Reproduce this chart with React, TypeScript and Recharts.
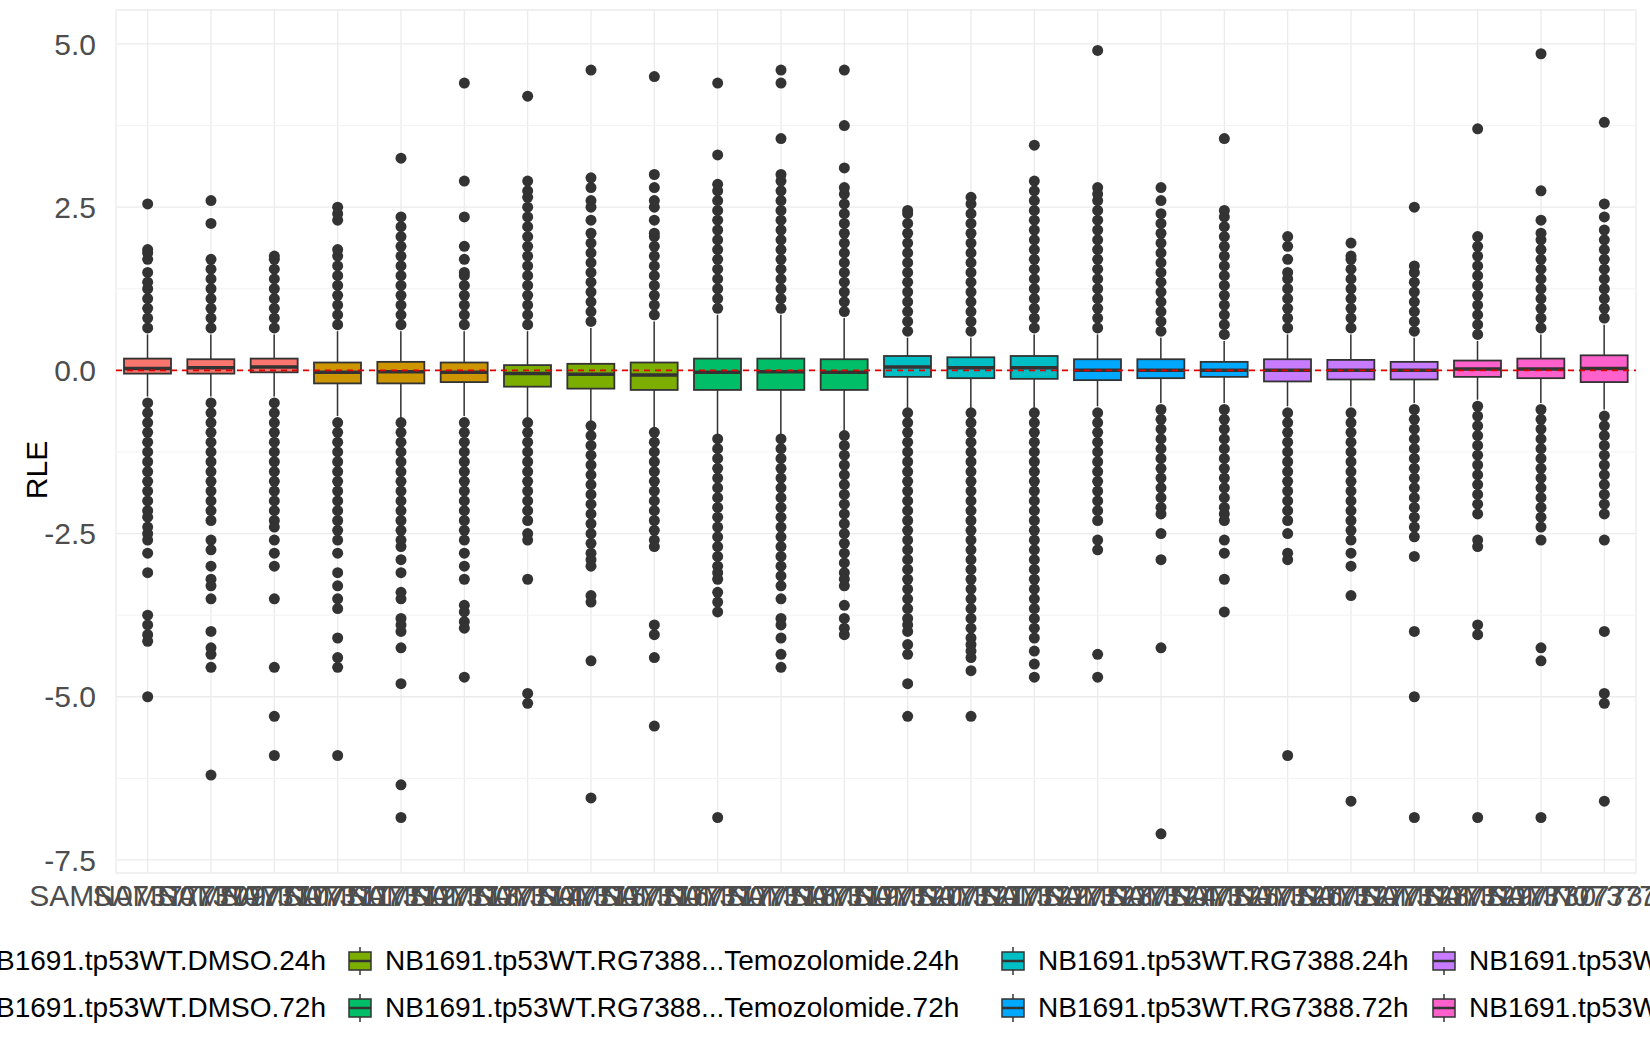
import React from "react";
import { ComposedChart, Bar, Scatter, XAxis, YAxis, CartesianGrid, ReferenceLine } from "recharts";

const samples = Array.from({ length: 24 }, (_, i) => `SAMN07377${7709 + i}`);
const groupColors = ["#F8766D", "#CD9600", "#7CAE00", "#00BE67", "#00BFC4", "#00A9FF", "#C77CFF", "#FF61CC"];

// [lo whisker, q1, median, q3, hi whisker]
const boxes: number[][] = [
  [-0.4, -0.05, 0.03, 0.18, 0.55], [-0.4, -0.05, 0.04, 0.17, 0.55], [-0.4, -0.03, 0.05, 0.18, 0.55],
  [-0.7, -0.2, -0.03, 0.12, 0.6], [-0.75, -0.2, -0.02, 0.13, 0.6], [-0.7, -0.18, -0.03, 0.12, 0.6],
  [-0.75, -0.25, -0.05, 0.08, 0.6], [-0.8, -0.28, -0.06, 0.1, 0.65], [-0.9, -0.3, -0.07, 0.12, 0.75],
  [-1.0, -0.3, -0.03, 0.18, 0.85], [-1.0, -0.3, -0.02, 0.18, 0.85], [-0.95, -0.3, -0.03, 0.17, 0.8],
  [-0.6, -0.1, 0.05, 0.22, 0.5], [-0.6, -0.12, 0.04, 0.2, 0.5], [-0.6, -0.13, 0.04, 0.22, 0.55],
  [-0.55, -0.15, 0.0, 0.17, 0.55], [-0.5, -0.12, 0.0, 0.17, 0.5], [-0.5, -0.1, 0.0, 0.13, 0.45],
  [-0.55, -0.17, 0.0, 0.17, 0.55], [-0.55, -0.14, 0.0, 0.16, 0.55], [-0.5, -0.14, 0.0, 0.13, 0.5],
  [-0.45, -0.1, 0.02, 0.15, 0.45], [-0.5, -0.12, 0.02, 0.18, 0.55], [-0.6, -0.18, 0.03, 0.23, 0.7],
];

const outliersUp: number[][] = [
  [0.65, 0.8, 0.95, 1.1, 1.25, 1.35, 1.5, 1.7, 1.8, 1.85, 2.55],
  [0.65, 0.8, 0.95, 1.1, 1.25, 1.4, 1.55, 1.7, 2.25, 2.6],
  [0.65, 0.8, 0.95, 1.1, 1.25, 1.4, 1.55, 1.7, 1.75],
  [0.7, 0.85, 1.0, 1.15, 1.3, 1.45, 1.6, 1.75, 1.85, 2.3, 2.4, 2.5],
  [0.7, 0.85, 1.0, 1.15, 1.3, 1.45, 1.6, 1.75, 1.9, 2.05, 2.2, 2.35, 3.25],
  [0.7, 0.85, 1.0, 1.15, 1.3, 1.45, 1.5, 1.7, 1.9, 2.35, 2.9, 4.4],
  [0.7, 0.85, 1.0, 1.15, 1.3, 1.45, 1.6, 1.75, 1.9, 2.05, 2.2, 2.35, 2.5, 2.65, 2.75, 2.9, 4.2],
  [0.75, 0.9, 1.05, 1.2, 1.35, 1.5, 1.65, 1.8, 1.95, 2.1, 2.3, 2.5, 2.6, 2.8, 2.95, 4.6],
  [0.85, 1.0, 1.15, 1.3, 1.45, 1.6, 1.75, 1.9, 2.05, 2.1, 2.3, 2.5, 2.6, 2.8, 3.0, 4.5],
  [0.95, 1.1, 1.25, 1.4, 1.55, 1.7, 1.85, 2.0, 2.15, 2.3, 2.45, 2.6, 2.75, 2.85, 3.3, 4.4],
  [0.95, 1.1, 1.25, 1.4, 1.55, 1.7, 1.85, 2.0, 2.15, 2.3, 2.45, 2.6, 2.75, 2.9, 3.0, 3.55, 4.4, 4.6],
  [0.9, 1.05, 1.2, 1.35, 1.5, 1.65, 1.8, 1.95, 2.1, 2.25, 2.4, 2.55, 2.7, 2.8, 3.1, 3.75, 4.6],
  [0.6, 0.75, 0.9, 1.05, 1.2, 1.35, 1.5, 1.65, 1.8, 1.95, 2.1, 2.25, 2.4, 2.45],
  [0.6, 0.75, 0.9, 1.05, 1.2, 1.35, 1.5, 1.65, 1.8, 1.95, 2.1, 2.25, 2.4, 2.55, 2.65],
  [0.65, 0.8, 0.95, 1.1, 1.25, 1.4, 1.55, 1.7, 1.85, 2.0, 2.15, 2.3, 2.45, 2.6, 2.75, 2.9, 3.45],
  [0.65, 0.8, 0.95, 1.1, 1.25, 1.4, 1.55, 1.7, 1.85, 2.0, 2.15, 2.3, 2.45, 2.6, 2.7, 2.8, 4.9],
  [0.6, 0.75, 0.9, 1.05, 1.2, 1.35, 1.5, 1.65, 1.8, 1.95, 2.1, 2.25, 2.4, 2.6, 2.8],
  [0.55, 0.7, 0.85, 1.0, 1.15, 1.3, 1.45, 1.6, 1.75, 1.9, 2.05, 2.2, 2.35, 2.45, 3.55],
  [0.65, 0.8, 0.95, 1.1, 1.25, 1.4, 1.5, 1.7, 1.9, 2.05],
  [0.65, 0.8, 0.95, 1.1, 1.25, 1.4, 1.55, 1.7, 1.75, 1.95],
  [0.6, 0.75, 0.9, 1.05, 1.2, 1.35, 1.5, 1.6, 2.5],
  [0.55, 0.7, 0.85, 1.0, 1.15, 1.3, 1.45, 1.6, 1.75, 1.9, 2.05, 3.7],
  [0.65, 0.8, 0.95, 1.1, 1.25, 1.4, 1.55, 1.7, 1.85, 2.0, 2.1, 2.3, 2.75, 4.85],
  [0.8, 0.95, 1.1, 1.25, 1.4, 1.55, 1.7, 1.85, 2.0, 2.15, 2.35, 2.55, 3.8],
];

const outliersDown: number[][] = [
  [-0.5, -0.65, -0.8, -0.95, -1.1, -1.25, -1.4, -1.55, -1.7, -1.85, -2.0, -2.15, -2.25, -2.4, -2.5, -2.6, -2.8, -3.1, -3.75, -3.9, -4.05, -4.15, -5.0],
  [-0.5, -0.65, -0.8, -0.95, -1.1, -1.25, -1.4, -1.55, -1.7, -1.85, -2.0, -2.15, -2.3, -2.6, -2.75, -3.0, -3.2, -3.3, -3.5, -4.0, -4.25, -4.35, -4.55, -6.2],
  [-0.5, -0.65, -0.8, -0.95, -1.1, -1.25, -1.4, -1.55, -1.7, -1.85, -2.0, -2.15, -2.3, -2.4, -2.6, -2.8, -3.0, -3.5, -4.55, -5.3, -5.9],
  [-0.8, -0.95, -1.1, -1.25, -1.4, -1.55, -1.7, -1.85, -2.0, -2.15, -2.3, -2.45, -2.6, -2.8, -3.1, -3.3, -3.5, -3.65, -4.1, -4.4, -4.55, -5.9],
  [-0.8, -0.95, -1.1, -1.25, -1.4, -1.55, -1.7, -1.85, -2.0, -2.15, -2.3, -2.45, -2.6, -2.7, -2.9, -3.1, -3.4, -3.5, -3.8, -3.9, -4.0, -4.25, -4.8, -6.35, -6.85],
  [-0.8, -0.95, -1.1, -1.25, -1.4, -1.55, -1.7, -1.85, -2.0, -2.15, -2.3, -2.45, -2.6, -2.8, -3.0, -3.2, -3.6, -3.7, -3.85, -3.95, -4.7],
  [-0.8, -0.95, -1.1, -1.25, -1.4, -1.55, -1.7, -1.85, -2.0, -2.15, -2.3, -2.5, -2.6, -3.2, -4.95, -5.1],
  [-0.85, -1.0, -1.15, -1.3, -1.45, -1.6, -1.75, -1.9, -2.05, -2.2, -2.35, -2.5, -2.65, -2.8, -2.9, -3.0, -3.45, -3.55, -4.45, -6.55],
  [-0.95, -1.1, -1.25, -1.4, -1.55, -1.7, -1.85, -2.0, -2.15, -2.3, -2.45, -2.6, -2.7, -3.9, -4.05, -4.4, -5.45],
  [-1.05, -1.2, -1.35, -1.5, -1.65, -1.8, -1.95, -2.1, -2.25, -2.4, -2.55, -2.7, -2.85, -3.0, -3.1, -3.2, -3.4, -3.55, -3.7, -6.85],
  [-1.05, -1.2, -1.35, -1.5, -1.65, -1.8, -1.95, -2.1, -2.25, -2.4, -2.55, -2.7, -2.85, -3.0, -3.15, -3.3, -3.5, -3.8, -3.9, -4.1, -4.35, -4.55],
  [-1.0, -1.15, -1.3, -1.45, -1.6, -1.75, -1.9, -2.05, -2.2, -2.35, -2.5, -2.65, -2.8, -2.95, -3.1, -3.2, -3.3, -3.6, -3.8, -3.95, -4.05],
  [-0.65, -0.8, -0.95, -1.1, -1.25, -1.4, -1.55, -1.7, -1.85, -2.0, -2.15, -2.3, -2.45, -2.6, -2.75, -2.9, -3.05, -3.2, -3.35, -3.5, -3.65, -3.8, -3.9, -4.0, -4.2, -4.35, -4.8, -5.3],
  [-0.65, -0.8, -0.95, -1.1, -1.25, -1.4, -1.55, -1.7, -1.85, -2.0, -2.15, -2.3, -2.45, -2.6, -2.75, -2.9, -3.05, -3.2, -3.35, -3.5, -3.65, -3.8, -3.95, -4.1, -4.2, -4.3, -4.4, -4.6, -5.3],
  [-0.65, -0.8, -0.95, -1.1, -1.25, -1.4, -1.55, -1.7, -1.85, -2.0, -2.15, -2.3, -2.45, -2.6, -2.75, -2.9, -3.05, -3.2, -3.35, -3.5, -3.65, -3.8, -3.95, -4.1, -4.3, -4.5, -4.7],
  [-0.65, -0.8, -0.95, -1.1, -1.25, -1.4, -1.55, -1.7, -1.85, -2.0, -2.15, -2.3, -2.6, -2.75, -4.35, -4.7],
  [-0.6, -0.75, -0.9, -1.05, -1.2, -1.35, -1.5, -1.65, -1.8, -1.95, -2.1, -2.2, -2.5, -2.9, -4.25, -7.1],
  [-0.6, -0.75, -0.9, -1.05, -1.2, -1.35, -1.5, -1.65, -1.8, -1.95, -2.1, -2.2, -2.3, -2.6, -2.8, -3.2, -3.7],
  [-0.65, -0.8, -0.95, -1.1, -1.25, -1.4, -1.55, -1.7, -1.85, -2.0, -2.15, -2.3, -2.5, -2.8, -2.9, -5.9],
  [-0.65, -0.8, -0.95, -1.1, -1.25, -1.4, -1.55, -1.7, -1.85, -2.0, -2.15, -2.3, -2.45, -2.6, -2.8, -3.0, -3.45, -6.6],
  [-0.6, -0.75, -0.9, -1.05, -1.2, -1.35, -1.5, -1.65, -1.8, -1.95, -2.1, -2.25, -2.4, -2.55, -2.85, -4.0, -5.0, -6.85],
  [-0.55, -0.7, -0.85, -1.0, -1.15, -1.3, -1.45, -1.6, -1.75, -1.9, -2.05, -2.2, -2.6, -2.7, -3.9, -4.05, -6.85],
  [-0.6, -0.75, -0.9, -1.05, -1.2, -1.35, -1.5, -1.65, -1.8, -1.95, -2.1, -2.25, -2.4, -2.6, -4.25, -4.45, -6.85],
  [-0.7, -0.85, -1.0, -1.15, -1.3, -1.45, -1.6, -1.75, -1.9, -2.05, -2.2, -2.6, -4.0, -4.95, -5.1, -6.6],
];

const legendCols = [
  ["NB1691.tp53WT.DMSO.24h", "NB1691.tp53WT.DMSO.72h"],
  ["NB1691.tp53WT.RG7388...Temozolomide.24h", "NB1691.tp53WT.RG7388...Temozolomide.72h"],
  ["NB1691.tp53WT.RG7388.24h", "NB1691.tp53WT.RG7388.72h"],
  ["NB1691.tp53WT.Temozolomide.24h", "NB1691.tp53WT.Temozolomide.72h"],
];

const majorTicks = [-7.5, -5, -2.5, 0, 2.5, 5];
const minorTicks = [-6.25, -3.75, -1.25, 1.25, 3.75];

const rows = samples.map((name, i) => {
  const [lo, q1, med, q3, hi] = boxes[i];
  return { name, lo, q1, med, q3, hi, color: groupColors[Math.floor(i / 3)] };
});
const points = samples.flatMap((_, i) =>
  [...outliersUp[i], ...outliersDown[i]].map((v) => ({ x: i + 0.5, y: v }))
);

const BoxShape = (p: any) => {
  const { x, y, width, height, payload } = p;
  const { lo, q1, med, q3, hi, color } = payload;
  const k = height / (hi - lo);
  const py = (v: number) => y + (hi - v) * k;
  const cx = x + width / 2;
  return (
    <g>
      <line x1={cx} x2={cx} y1={py(hi)} y2={py(lo)} stroke="#333" strokeWidth={1.5} />
      <rect x={x} y={py(q3)} width={width} height={py(q1) - py(q3)} fill={color} stroke="#333" strokeWidth={1.8} />
      <line x1={x} x2={x + width} y1={py(med)} y2={py(med)} stroke="#333" strokeWidth={3.5} />
    </g>
  );
};

const Dot = (p: any) => <circle cx={p.cx} cy={p.cy} r={5.5} fill="#333" />;

const KeyGlyph = ({ color }: { color: string }) => (
  <svg width={26} height={30} style={{ verticalAlign: "middle" }}>
    <line x1={13} x2={13} y1={1} y2={29} stroke="#333" strokeWidth={1.5} />
    <rect x={2} y={6} width={22} height={18} fill={color} stroke="#333" strokeWidth={1.5} />
    <line x1={2} x2={24} y1={15} y2={15} stroke="#333" strokeWidth={2.5} />
  </svg>
);

const colLeft = [null, 347, 1000, 1431];

export default function App() {
  return (
    <div style={{ position: "absolute", left: 0, top: 0, width: 1650, height: 1050, overflow: "hidden", background: "#fff", fontFamily: "'Liberation Sans', Arial, sans-serif" }}>
      <ComposedChart width={1650} height={940} data={rows} margin={{ top: 10, right: 14, left: 16, bottom: 7 }} barSize={47}>
        <CartesianGrid stroke="#ebebeb" strokeWidth={1.3} />
        {minorTicks.map((t) => (
          <ReferenceLine key={t} y={t} stroke="#f3f3f3" strokeWidth={1} />
        ))}
        <XAxis dataKey="name" height={60} axisLine={false} tickLine={false} interval={0}
          tick={{ fontSize: 30, fill: "#4d4d4d" }} tickMargin={6} />
        <XAxis xAxisId="num" dataKey="x" type="number" domain={[0, 24]} allowDataOverflow hide />
        <YAxis type="number" domain={[-7.7, 5.52]} ticks={majorTicks} width={100} axisLine={false} tickLine={false}
          tickFormatter={(v: number) => v.toFixed(1)} tick={{ fontSize: 30, fill: "#4d4d4d" }} tickMargin={14} />
        <Bar dataKey={(d: any) => [d.lo, d.hi]} shape={BoxShape} isAnimationActive={false} />
        <Scatter xAxisId="num" data={points} dataKey="y" shape={Dot} isAnimationActive={false} />
        <ReferenceLine y={0} stroke="#e00000" strokeWidth={1.8} strokeDasharray="6 5" />
      </ComposedChart>
      <div style={{ position: "absolute", left: 8, top: 470, transform: "translate(0,-50%) rotate(-90deg)", fontSize: 30, color: "#000" }}>RLE</div>
      {legendCols.map((col, c) =>
        col.map((label, r) => {
          const color = groupColors[c * 2 + r];
          const top = 945 + r * 47;
          if (c === 0) {
            return (
              <div key={label} style={{ position: "absolute", right: 1650 - 326, top, fontSize: 28, whiteSpace: "nowrap", display: "flex", alignItems: "center", gap: 12 }}>
                <KeyGlyph color={color} /><span>{label}</span>
              </div>
            );
          }
          return (
            <div key={label} style={{ position: "absolute", left: colLeft[c]!, top, fontSize: 28, whiteSpace: "nowrap", display: "flex", alignItems: "center", gap: 12 }}>
              <KeyGlyph color={color} /><span>{label}</span>
            </div>
          );
        })
      )}
    </div>
  );
}
